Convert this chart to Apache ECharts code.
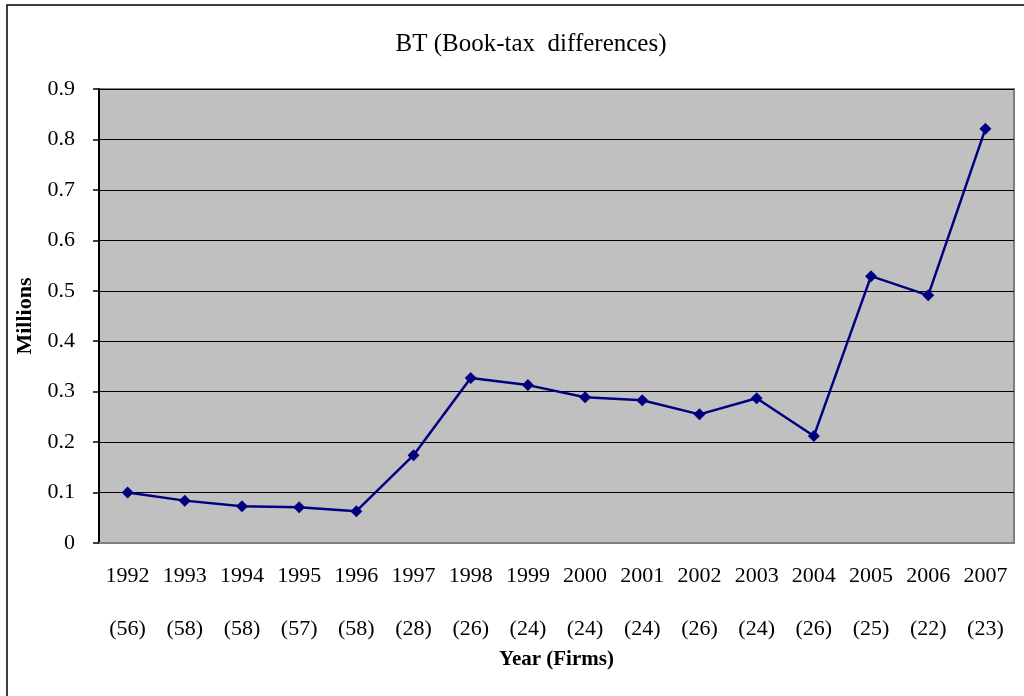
<!DOCTYPE html>
<html>
<head>
<meta charset="utf-8">
<script src="https://cdn.jsdelivr.net/npm/echarts@6/dist/echarts.min.js"></script>
<style>
html,body{margin:0;padding:0;background:#fff;}
#chart{width:1024px;height:696px;}
</style>
</head>
<body>
<div id="chart"></div>
<script>
var years = ['1992','1993','1994','1995','1996','1997','1998','1999','2000','2001','2002','2003','2004','2005','2006','2007'];
var firms = ['56','58','58','57','58','28','26','24','24','24','26','24','26','25','22','23'];
var bt = [0.100,0.084,0.073,0.071,0.063,0.174,0.327,0.313,0.289,0.283,0.255,0.287,0.212,0.529,0.491,0.821];
var yTicks = ['0','0.1','0.2','0.3','0.4','0.5','0.6','0.7','0.8','0.9'];

var categories = years.map(function(y,i){ return y + '\n\n(' + firms[i] + ')'; });
var font = '"Liberation Serif", "DejaVu Serif", serif';

var chart = echarts.init(document.getElementById('chart'), null, {renderer:'canvas'});
chart.setOption({
  animation:false,
  backgroundColor:'#ffffff',
  title:{
    text:'BT (Book-tax  differences)',
    left:526, top:27, textAlign:'center',
    textStyle:{fontFamily:font, fontSize:25, fontWeight:'normal', color:'#000'}
  },
  graphic:[{
    type:'polyline',
    shape:{points:[[7,696],[7,5],[1024,5]]},
    style:{stroke:'#000', lineWidth:1.5, fill:null},
    z:100
  }],
  grid:{
    left:99, top:89, width:915, height:454,
    outerBoundsMode:'none', containLabel:false,
    show:true, backgroundColor:'#C0C0C0', borderColor:'#808080', borderWidth:2
  },
  xAxis:{
    type:'category',
    data:categories,
    boundaryGap:true,
    name:'Year (Firms)',
    nameLocation:'middle',
    nameGap:106,
    nameTextStyle:{fontFamily:font, fontSize:21, fontWeight:'bold', color:'#000'},
    axisLine:{show:true, lineStyle:{color:'#808080', width:2}},
    axisTick:{show:false},
    axisLabel:{fontFamily:font, fontSize:22, color:'#000', lineHeight:26.5, margin:20, interval:0}
  },
  yAxis:{
    type:'value',
    min:0, max:0.9, interval:0.1,
    name:'Millions',
    nameLocation:'middle',
    nameRotate:90,
    nameGap:63,
    nameTextStyle:{fontFamily:font, fontSize:22, fontWeight:'bold', color:'#000'},
    axisLine:{show:true, lineStyle:{color:'#000', width:2}},
    axisTick:{show:true, inside:false, length:6, lineStyle:{color:'#000', width:1.5}},
    axisLabel:{fontFamily:font, fontSize:22, color:'#000', margin:24,
      formatter:function(v){ var i = Math.round(v*10); return yTicks[i]; }},
    splitLine:{show:true, lineStyle:{color:'#000', width:1.2}}
  },
  series:[{
    type:'line',
    data:bt,
    symbol:'diamond',
    symbolSize:12,
    lineStyle:{color:'#000080', width:2.5},
    itemStyle:{color:'#000080'},
    z:5
  }]
});
</script>
</body>
</html>
